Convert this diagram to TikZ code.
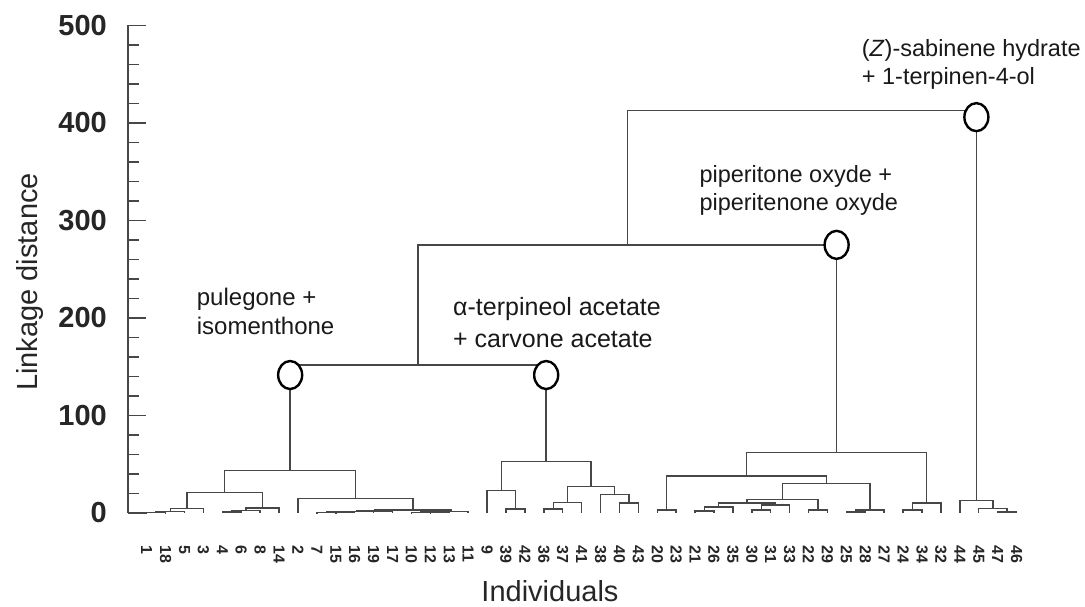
\documentclass[tikz,border=0pt]{standalone}
\usepackage{fontspec}
\setmainfont{Liberation Sans}
\usetikzlibrary{shapes.geometric}
\tikzstyle{branch}=[draw=black!72, line width=1.5pt]
\tikzstyle{marker}=[ellipse, draw=black, line width=2.4pt, fill=white, minimum width=24pt, minimum height=28pt, inner sep=0pt]
\tikzstyle{leaf}=[rotate=-90, anchor=west, inner sep=0pt, text=black!85, font=\fontsize{16}{16}\selectfont\bfseries]
\tikzstyle{note}=[align=left, anchor=base west, inner sep=0pt, text=black!90, font=\fontsize{23.5}{28}\selectfont]
\tikzstyle{tick}=[draw=black!72, line width=1.6pt]
\newcommand{\mergeat}[5]{\draw[branch] (#1,#2) |- (#3,#5) -- (#3,#4);}

\begin{document}
\begin{tikzpicture}[x=1pt,y=1pt]
\useasboundingbox (0,0) rectangle (1085,607);

% axis
\begin{scope}[shift={(0pt,94pt)}, y=0.975pt]
  \draw[tick] (128,0) -- (128,500);
  \foreach \d in {20,40,...,480} \draw[tick] (128,\d) -- (139,\d);
  \foreach \d in {0,100,...,500} {
    \draw[tick] (128,\d) -- (146,\d);
    \node[anchor=east, inner sep=0pt, text=black!85, font=\fontsize{29}{29}\selectfont\bfseries] (lab\d) at (107,\d) {\d};
  }
\end{scope}
\node[rotate=90, text=black!85, font=\fontsize{29}{29}\selectfont] (ytitle) at (30,325) {Linkage distance};
\node[anchor=base, text=black!85, font=\fontsize{29}{29}\selectfont] (xtitle) at (550,5) {Individuals};

% tree, x = leaf position, y = linkage distance
\begin{scope}[shift={(127.79pt,94pt)}, x=18.91pt, y=0.975pt]
  \foreach \lab [count=\p] in {1,18,5,3,4,6,8,14,2,7,15,16,19,17,10,12,13,11,9,39,42,36,37,41,38,40,43,20,23,21,26,35,30,31,33,22,29,25,28,27,24,34,32,44,45,47,46}
    \node[leaf] (leaf\lab) at (\p,-33) {\lab};

  % pulegone group
  \mergeat{1}{0}{2}{0}{0.5}
  \mergeat{1.5}{0.5}{3}{0}{1.5}
  \mergeat{2.25}{1.5}{4}{0}{4.5}
  \mergeat{5}{0}{6}{0}{1}
  \mergeat{5.5}{1}{7}{0}{2.5}
  \mergeat{6.25}{2.5}{8}{0}{5}
  \mergeat{3.125}{4.5}{7.125}{5}{21}
  \mergeat{10}{0}{11}{0}{0.5}
  \mergeat{10.5}{0.5}{12}{0}{1}
  \mergeat{11.25}{1}{13}{0}{1.5}
  \mergeat{12.125}{1.5}{14}{0}{2}
  \mergeat{15}{0}{16}{0}{0.5}
  \mergeat{15.5}{0.5}{17}{0}{1}
  \mergeat{16.25}{1}{18}{0}{1.5}
  \mergeat{13.0625}{2}{17.125}{1.5}{3}
  \mergeat{9}{0}{15.09375}{3}{15}
  \mergeat{5.125}{21}{12.046875}{15}{43.5}

  % acetate group
  \mergeat{20}{0}{21}{0}{4}
  \mergeat{19}{0}{20.5}{4}{23}
  \mergeat{22}{0}{23}{0}{4}
  \mergeat{22.5}{4}{24}{0}{11}
  \mergeat{26}{0}{27}{0}{10}
  \mergeat{25}{0}{26.5}{10}{19}
  \mergeat{23.25}{11}{25.75}{19}{27}
  \mergeat{19.75}{23}{24.5}{27}{53}

  \mergeat{8.586}{43.5}{22.125}{53}{152}

  % oxyde group
  \mergeat{28}{0}{29}{0}{3}
  \mergeat{30}{0}{31}{0}{2}
  \mergeat{30.5}{2}{32}{0}{6}
  \mergeat{33}{0}{34}{0}{3}
  \mergeat{33.5}{3}{35}{0}{8}
  \mergeat{31.25}{6}{34.25}{8}{10}
  \mergeat{36}{0}{37}{0}{3}
  \mergeat{32.75}{10}{36.5}{3}{14}
  \mergeat{38}{0}{39}{0}{1}
  \mergeat{38.5}{1}{40}{0}{3}
  \mergeat{34.625}{14}{39.25}{3}{30}
  \mergeat{28.5}{3}{36.9375}{30}{38}
  \mergeat{41}{0}{42}{0}{3}
  \mergeat{41.5}{3}{43}{0}{10}
  \mergeat{32.71875}{38}{42.25}{10}{62}

  \mergeat{15.356}{152}{37.484}{62}{275}

  % sabinene group
  \mergeat{46}{0}{47}{0}{1}
  \mergeat{45}{0}{46.5}{1}{4.5}
  \mergeat{44}{0}{45.75}{4.5}{13}

  \mergeat{26.42}{275}{44.875}{13}{413}

  \node[marker] (pul) at (8.586,141.5) {};
  \node[marker] (terp) at (22.125,141.5) {};
  \node[marker] (pip) at (37.484,275) {};
  \node[marker] (sab) at (44.875,406) {};
\end{scope}

% base anchor sits on the last line
\node[note, font=\fontsize{24}{29}\selectfont] (pultext) at (196.7,272) {pulegone +\\isomenthone};
\node[note, font=\fontsize{25}{32}\selectfont] (terptext) at (453,259) {α-terpineol acetate\\+ carvone acetate};
\node[note] (piptext) at (699.3,396) {piperitone oxyde +\\piperitenone oxyde};
\node[note] (sabtext) at (861.7,522) {(\textit{Z})-sabinene hydrate\\+ 1-terpinen-4-ol};
\end{tikzpicture}
\end{document}
